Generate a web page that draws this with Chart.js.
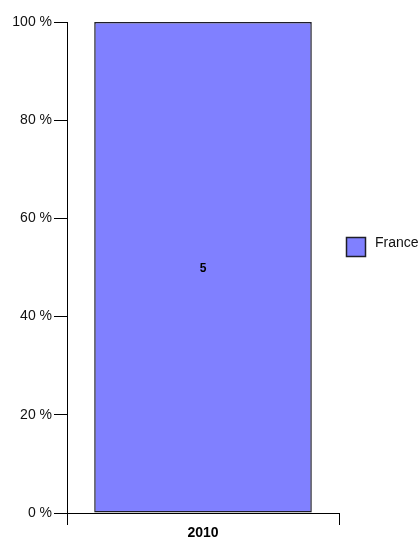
<!DOCTYPE html>
<html>
<head>
<meta charset="utf-8">
<script src="https://cdn.jsdelivr.net/npm/chart.js@4"></script>
<style>
  html, body { margin: 0; padding: 0; background: #fff; }
  #chart { display: block; }
</style>
</head>
<body>
<canvas id="chart" width="419" height="539"></canvas>
<script>
// chart data
let categories = ['2010'];
let seriesNames = ['France'];
let franceValues = [5];
let yTicks = [0, 20, 40, 60, 80, 100];

let fillColor = '#8080ff';
let edgeColor = '#1e1e28';
let fontFamily = 'Arial, "Liberation Sans", sans-serif';

// 100% stacked: share of each category total
let totals = categories.map((c, i) => franceValues[i]);
let francePercent = franceValues.map((v, i) => v / totals[i] * 100);

// value label in the middle of each bar
let barLabels = {
    id: 'barLabels',
    afterDatasetsDraw(chart) {
        let ctx = chart.ctx;
        let meta = chart.getDatasetMeta(0);
        ctx.save();
        ctx.font = 'bold 12px ' + fontFamily;
        ctx.fillStyle = '#000';
        ctx.textAlign = 'center';
        ctx.textBaseline = 'middle';
        meta.data.forEach(function (bar, i) {
            let mid = (bar.y + bar.base) / 2;
            ctx.fillText(String(franceValues[i]), bar.x, mid + 1);
        });
        ctx.restore();
    }
};

// legend to the right of the plot
let sideLegend = {
    id: 'sideLegend',
    afterDraw(chart) {
        let ctx = chart.ctx;
        let x = chart.chartArea.right + 7;
        let y = 237;
        ctx.save();
        seriesNames.forEach(function (name, i) {
            ctx.fillStyle = fillColor;
            ctx.fillRect(x, y + i * 26, 20, 20);
            ctx.strokeStyle = edgeColor;
            ctx.lineWidth = 1.5;
            ctx.strokeRect(x + 0.5, y + i * 26 + 0.5, 19, 19);
            ctx.fillStyle = '#111';
            ctx.font = '14px ' + fontFamily;
            ctx.textBaseline = 'middle';
            ctx.textAlign = 'left';
            ctx.fillText(name, x + 29, y + i * 26 + 6);
        });
        ctx.restore();
    }
};

let ctx = document.getElementById('chart').getContext('2d');
window.bar = new Chart(ctx, {
    type: 'bar',
    data: {
        labels: categories,
        datasets: [{
            label: seriesNames[0],
            data: francePercent,
            backgroundColor: fillColor,
            borderColor: edgeColor,
            borderWidth: 1.5,
            borderSkipped: false,
            categoryPercentage: 1,
            barPercentage: 0.8
        }]
    },
    options: {
        responsive: false,
        animation: false,
        layout: { padding: { top: 22, right: 80, left: 0, bottom: 0 } },
        plugins: {
            legend: { display: false },
            tooltip: { enabled: false }
        },
        scales: {
            x: {
                stacked: true,
                offset: true,
                border: { display: true, color: '#000', width: 1 },
                grid: { offset: true, drawOnChartArea: false, drawTicks: true, tickLength: 12, color: '#000' },
                ticks: {
                    padding: 0,
                    color: '#000',
                    font: { family: fontFamily, size: 14, weight: 'bold' }
                },
                afterFit(scale) { scale.height = 26; }
            },
            y: {
                stacked: true,
                min: 0,
                max: 100,
                afterBuildTicks(scale) { scale.ticks = yTicks.map(v => ({ value: v })); },
                border: { display: true, color: '#000', width: 1 },
                grid: { drawOnChartArea: false, drawTicks: true, tickLength: 13, color: '#000' },
                ticks: {
                    padding: 2,
                    color: '#111',
                    font: { family: fontFamily, size: 14 },
                    callback: v => v + ' %'
                },
                afterFit(scale) { scale.width = 67; }
            }
        }
    },
    plugins: [barLabels, sideLegend]
});
</script>
</body>
</html>
